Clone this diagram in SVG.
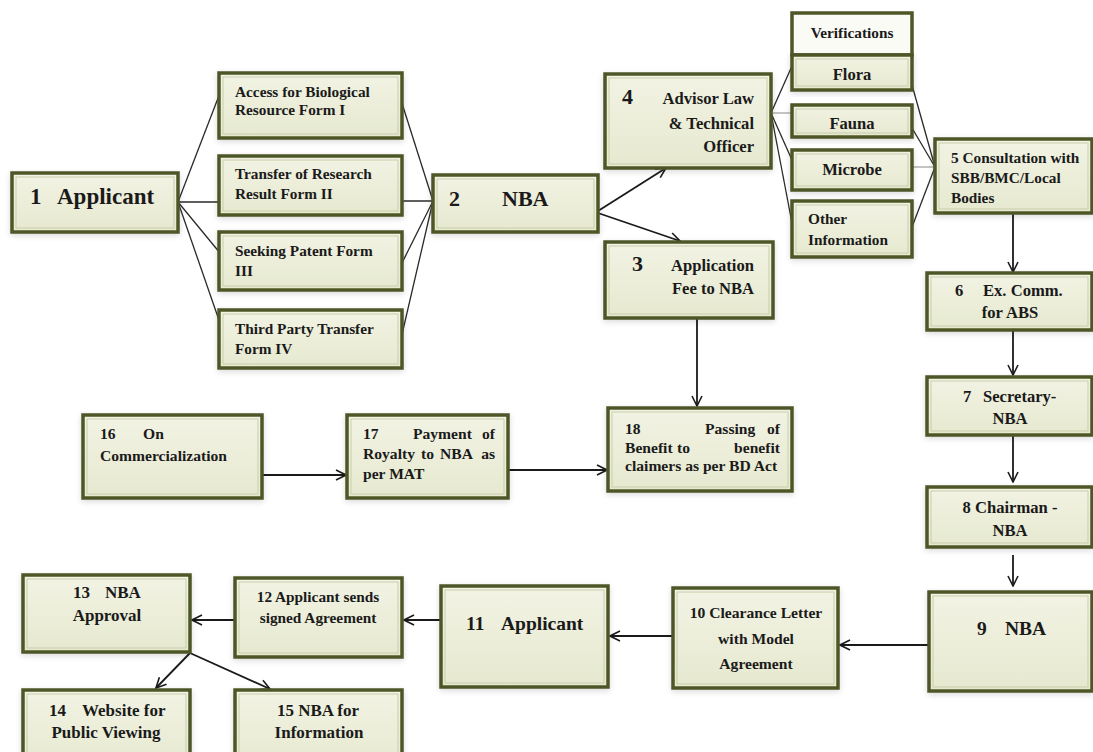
<svg xmlns="http://www.w3.org/2000/svg" width="1093" height="752" viewBox="0 0 1093 752" xml:space="preserve">
<defs>
<linearGradient id="g" x1="0" y1="0" x2="0" y2="1">
<stop offset="0" stop-color="#f2f3e4"/>
<stop offset="1" stop-color="#e6e9cf"/>
</linearGradient>
<filter id="sh" x="-10%" y="-10%" width="120%" height="130%">
<feGaussianBlur in="SourceAlpha" stdDeviation="3"/>
<feOffset dx="0" dy="2"/>
<feComponentTransfer><feFuncA type="linear" slope="0.15"/></feComponentTransfer>
<feMerge><feMergeNode/><feMergeNode in="SourceGraphic"/></feMerge>
</filter>
<marker id="ah" viewBox="0 0 12 12" refX="11" refY="6" markerWidth="12" markerHeight="12" markerUnits="userSpaceOnUse" orient="auto">
<path d="M1,1 L11,6 L1,11" fill="none" stroke="#1a1a1a" stroke-width="1.6"/>
</marker>
</defs>
<style>
.b{fill:url(#g);stroke:#4e5726;stroke-width:3.5;filter:url(#sh)}
.w{fill:#fbfbf6;stroke:#4e5726;stroke-width:3.5}
.in{fill:none;stroke:#c9cdaa;stroke-width:1}
text{font-family:'Liberation Serif','DejaVu Serif',serif;font-weight:bold;fill:#1a1a1a;white-space:pre}
.f{font-size:15.3px}.m{font-size:15.6px}.k{font-size:16.6px}.l{font-size:17px}.x{font-size:19.5px}.d{font-size:22px}.h{font-size:23px}
.c{text-anchor:middle}.e{text-anchor:end}
.ln{stroke:#2a2a2a;stroke-width:1.3;fill:none}
.ar{stroke:#1a1a1a;stroke-width:1.8;fill:none;marker-end:url(#ah)}
.gl{stroke:#8a8a8a;stroke-width:1;fill:none}
</style>
<rect width="1093" height="752" fill="#ffffff"/>

<g id="connectors">
<line class="ln" x1="178" y1="202" x2="220" y2="93"/>
<line class="ln" x1="178" y1="202" x2="220" y2="202"/>
<line class="ln" x1="178" y1="202" x2="220" y2="253"/>
<line class="ln" x1="178" y1="202" x2="220" y2="323"/>
<line class="ln" x1="400" y1="97" x2="433" y2="201"/>
<line class="ln" x1="400" y1="201" x2="433" y2="201"/>
<line class="ln" x1="400" y1="267" x2="433" y2="201"/>
<line class="ln" x1="400" y1="343" x2="433" y2="201"/>
<line class="ar" x1="598" y1="211" x2="666" y2="168"/>
<line class="ar" x1="598" y1="213" x2="680" y2="241"/>
<line class="ln" x1="771" y1="113" x2="792" y2="66"/>
<line class="gl" x1="771" y1="113" x2="792" y2="113"/>
<line class="ln" x1="771" y1="113" x2="792" y2="160"/>
<line class="ln" x1="771" y1="113" x2="792" y2="223"/>
<line class="ln" x1="912" y1="85" x2="935" y2="167"/>
<line class="ln" x1="912" y1="128" x2="935" y2="167"/>
<line class="gl" x1="912" y1="167" x2="935" y2="167"/>
<line class="ln" x1="912" y1="227" x2="935" y2="167"/>
<line class="ar" x1="1013" y1="213" x2="1013" y2="272"/>
<line class="ar" x1="1013" y1="330" x2="1013" y2="375"/>
<line class="ar" x1="1013" y1="436" x2="1013" y2="482"/>
<line class="ar" x1="1013" y1="555" x2="1013" y2="586"/>
<line class="ar" x1="929" y1="645" x2="840" y2="645"/>
<line class="ar" x1="673" y1="636" x2="610" y2="636"/>
<line class="ar" x1="441" y1="620" x2="404" y2="620"/>
<line class="ar" x1="235" y1="620" x2="192" y2="620"/>
<line class="ar" x1="190" y1="653" x2="156" y2="688"/>
<line class="ar" x1="190" y1="653" x2="270" y2="689"/>
<line class="ar" x1="697" y1="318" x2="697" y2="406"/>
<line class="ar" x1="262" y1="475" x2="346" y2="475"/>
<line class="ar" x1="508" y1="470" x2="607" y2="470"/>
</g>

<g id="n1"><rect class="b" x="12" y="173" width="166" height="59"/><rect class="in" x="16" y="177" width="158" height="51"/>
<text class="h" x="30" y="204">1</text><text class="h" x="57" y="204">Applicant</text></g>

<g id="f1"><rect class="b" x="219" y="73" width="183" height="65"/><rect class="in" x="223" y="77" width="175" height="57"/>
<text class="f" x="235" y="97">Access for Biological</text><text class="f" x="235" y="115">Resource Form I</text></g>
<g id="f2"><rect class="b" x="219" y="156" width="183" height="59"/><rect class="in" x="223" y="160" width="175" height="51"/>
<text class="f" x="235" y="179">Transfer of Research</text><text class="f" x="235" y="199">Result Form II</text></g>
<g id="f3"><rect class="b" x="219" y="232" width="183" height="58"/><rect class="in" x="223" y="236" width="175" height="50"/>
<text class="f" x="235" y="256">Seeking Patent Form</text><text class="f" x="235" y="276">III</text></g>
<g id="f4"><rect class="b" x="219" y="310" width="183" height="58"/><rect class="in" x="223" y="314" width="175" height="50"/>
<text class="f" x="235" y="334">Third Party Transfer</text><text class="f" x="235" y="354">Form IV</text></g>

<g id="n2"><rect class="b" x="433" y="175" width="165" height="57"/><rect class="in" x="437" y="179" width="157" height="49"/>
<text class="d" x="449" y="206">2</text><text class="d" x="502" y="206">NBA</text></g>

<g id="n4"><rect class="b" x="605" y="74" width="166" height="94"/><rect class="in" x="609" y="78" width="158" height="86"/>
<text class="d" x="622" y="104">4</text>
<text class="k e" x="754" y="104">Advisor Law</text><text class="k e" x="754" y="129">&amp; Technical</text><text class="k e" x="754" y="152">Officer</text></g>

<g id="n3"><rect class="b" x="605" y="242" width="168" height="76"/><rect class="in" x="609" y="246" width="160" height="68"/>
<text class="d" x="632" y="271">3</text>
<text class="k e" x="754" y="271">Application</text><text class="k e" x="754" y="294">Fee to NBA</text></g>

<g id="verif"><rect class="w" x="792" y="13" width="120" height="42"/>
<text class="f c" x="852" y="38">Verifications</text></g>
<g id="flora"><rect class="b" x="792" y="55" width="120" height="35"/><rect class="in" x="796" y="59" width="112" height="27"/>
<text class="k c" x="852" y="80">Flora</text></g>
<g id="fauna"><rect class="b" x="792" y="105" width="120" height="32"/><rect class="in" x="796" y="109" width="112" height="24"/>
<text class="k c" x="852" y="129">Fauna</text></g>
<g id="microbe"><rect class="b" x="792" y="150" width="120" height="40"/><rect class="in" x="796" y="154" width="112" height="32"/>
<text class="k c" x="852" y="175">Microbe</text></g>
<g id="other"><rect class="b" x="792" y="201" width="120" height="56"/><rect class="in" x="796" y="205" width="112" height="48"/>
<text class="f" x="808" y="224">Other</text><text class="f" x="808" y="245">Information</text></g>

<g id="n5"><rect class="b" x="935" y="139" width="157" height="74"/><rect class="in" x="939" y="143" width="149" height="66"/>
<text class="f" x="951" y="163">5 Consultation with</text><text class="f" x="951" y="183">SBB/BMC/Local</text><text class="f" x="951" y="203">Bodies</text></g>

<g id="n6"><rect class="b" x="927" y="273" width="165" height="57"/><rect class="in" x="931" y="277" width="157" height="49"/>
<text class="k" x="955" y="296">6</text><text class="k" x="983" y="296">Ex. Comm.</text><text class="k c" x="1010" y="318">for ABS</text></g>
<g id="n7"><rect class="b" x="927" y="377" width="165" height="58"/><rect class="in" x="931" y="381" width="157" height="50"/>
<text class="k" x="963" y="402">7</text><text class="k" x="983" y="402">Secretary-</text><text class="k c" x="1010" y="424">NBA</text></g>
<g id="n8"><rect class="b" x="927" y="487" width="165" height="60"/><rect class="in" x="931" y="491" width="157" height="52"/>
<text class="k c" x="1010" y="513">8 Chairman -</text><text class="k c" x="1010" y="536">NBA</text></g>
<g id="n9"><rect class="b" x="929" y="592" width="163" height="99"/><rect class="in" x="933" y="596" width="155" height="91"/>
<text class="x" x="977" y="635">9</text><text class="x" x="1005" y="635">NBA</text></g>

<g id="n10"><rect class="b" x="673" y="588" width="165" height="100"/><rect class="in" x="677" y="592" width="157" height="92"/>
<text class="m c" x="756" y="618">10 Clearance Letter</text><text class="m c" x="756" y="644">with Model</text><text class="m c" x="756" y="669">Agreement</text></g>
<g id="n11"><rect class="b" x="441" y="586" width="167" height="101"/><rect class="in" x="445" y="590" width="159" height="93"/>
<text class="x" x="466" y="630">11</text><text class="x" x="501" y="630">Applicant</text></g>
<g id="n12"><rect class="b" x="235" y="578" width="167" height="79"/><rect class="in" x="239" y="582" width="159" height="71"/>
<text class="f c" x="318" y="602">12 Applicant sends</text><text class="f c" x="318" y="623">signed Agreement</text></g>
<g id="n13"><rect class="b" x="23" y="575" width="167" height="77"/><rect class="in" x="27" y="579" width="159" height="69"/>
<text class="l" x="73" y="598">13</text><text class="l" x="105" y="598">NBA</text><text class="l c" x="107" y="621">Approval</text></g>
<g id="n14"><rect class="b" x="23" y="690" width="167" height="80"/><rect class="in" x="27" y="694" width="159" height="72"/>
<text class="l" x="49" y="716">14</text><text class="l" x="82" y="716">Website for</text><text class="l c" x="106" y="738">Public Viewing</text></g>
<g id="n15"><rect class="b" x="235" y="690" width="167" height="80"/><rect class="in" x="239" y="694" width="159" height="72"/>
<text class="l c" x="318" y="716">15 NBA for</text><text class="l c" x="319" y="738">Information</text></g>

<g id="n16"><rect class="b" x="83" y="415" width="179" height="83"/><rect class="in" x="87" y="419" width="171" height="75"/>
<text class="m" x="100" y="439">16</text><text class="m" x="143" y="439">On</text><text class="m" x="100" y="461">Commercialization</text></g>
<g id="n17"><rect class="b" x="347" y="415" width="161" height="83"/><rect class="in" x="351" y="419" width="153" height="75"/>
<text class="m" x="363" y="439">17</text><text class="m" x="413" y="439">Payment</text><text class="m e" x="495" y="439">of</text>
<text class="m" x="363" y="459">Royalty</text><text class="m" x="421" y="459">to</text><text class="m" x="440" y="459">NBA</text><text class="m e" x="495" y="459">as</text>
<text class="m" x="363" y="479">per MAT</text></g>
<g id="n18"><rect class="b" x="608" y="408" width="184" height="83"/><rect class="in" x="612" y="412" width="176" height="75"/>
<text class="m" x="625" y="434">18</text><text class="m" x="705" y="434">Passing</text><text class="m e" x="780" y="434">of</text>
<text class="m" x="625" y="453">Benefit</text><text class="m" x="677" y="453">to</text><text class="m e" x="780" y="453">benefit</text>
<text class="m" x="625" y="471">claimers as per BD Act</text></g>
</svg>
